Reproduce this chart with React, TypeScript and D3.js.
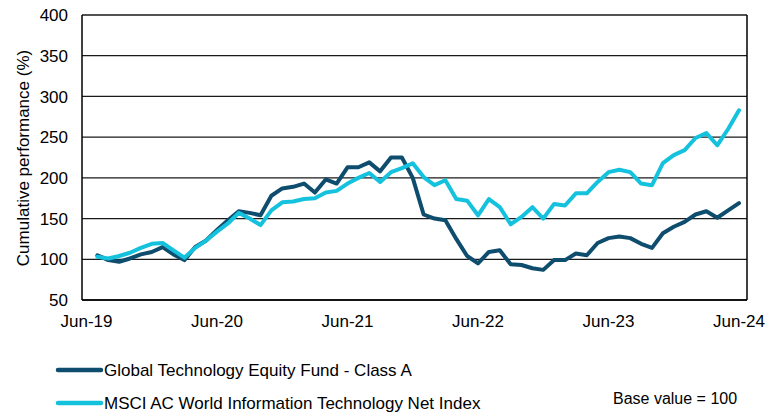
import React from "react";
import * as d3 from "d3";

const xTickLabels = ["Jun-19", "Jun-20", "Jun-21", "Jun-22", "Jun-23", "Jun-24"];
const yTicks = [50, 100, 150, 200, 250, 300, 350, 400];

// monthly values, Jul-19 .. Jun-24 (base = 100)
const fundValues = [
  105, 99, 97, 101, 106, 109, 115, 106, 99, 115,
  123, 136, 148, 159, 157, 154, 178, 187, 189, 193,
  182, 198, 193, 213, 213, 219, 208, 225, 225, 200,
  155, 150, 148, 125, 104, 95, 109, 111, 94, 93,
  89, 87, 99, 99, 107, 105, 120, 126, 128, 126,
  119, 114, 132, 140, 146, 155, 159, 151, 160, 169,
];
const indexValues = [
  103, 101, 104, 108, 114, 119, 120, 111, 102, 114,
  123, 134, 144, 157, 150, 142, 160, 170, 171, 174,
  175, 182, 184, 193, 200, 206, 195, 207, 212, 218,
  201, 191, 197, 174, 172, 154, 174, 164, 143, 152,
  164, 150, 168, 166, 181, 181, 195, 207, 210, 207,
  193, 191, 218, 228, 234, 249, 255, 240, 260, 283,
];

const seriesNames = [
  "Global Technology Equity Fund - Class A",
  "MSCI AC World Information Technology Net Index",
];
const seriesColors = ["#0E4D6E", "#15C2DE"];

const W = 779;
const H = 412;
const FONT = "'Liberation Sans', Arial, sans-serif";

export default function App() {
  const plotLeft = 82;
  const plotRight = 747;
  const plotTop = 15;
  const plotBottom = 300;

  const x = d3.scaleLinear().domain([0, 60]).range([86.5, 739]);
  const y = d3.scaleLinear().domain([50, 400]).range([plotBottom, plotTop]);

  const line = d3
    .line<number>()
    .x((_, i) => x(i + 1))
    .y((d) => y(d));

  const series = [fundValues, indexValues];

  return (
    <svg
      width={W}
      height={H}
      style={{ position: "absolute", left: 0, top: 0, background: "#fff" }}
      fontFamily={FONT}
    >
      <rect x={0} y={0} width={W} height={H} fill="#fff" />
      {/* gridlines */}
      {yTicks.map((t) => (
        <line
          key={t}
          x1={plotLeft}
          x2={plotRight}
          y1={y(t)}
          y2={y(t)}
          stroke="#1a1a1a"
          strokeWidth={1.3}
        />
      ))}
      {/* frame */}
      <line x1={plotLeft} x2={plotLeft} y1={plotTop} y2={plotBottom} stroke="#000" strokeWidth={1.5} />
      <line x1={plotRight} x2={plotRight} y1={plotTop} y2={plotBottom} stroke="#000" strokeWidth={1.5} />
      <line x1={plotLeft} x2={plotRight} y1={plotBottom} y2={plotBottom} stroke="#000" strokeWidth={1.5} />

      {/* y tick labels */}
      {yTicks.map((t) => (
        <text key={t} x={68} y={y(t)} dy="0.36em" textAnchor="end" fontSize={17} fill="#000">
          {t}
        </text>
      ))}
      {/* x tick labels */}
      {xTickLabels.map((l, i) => (
        <text key={l} x={x(i * 12)} y={327} textAnchor="middle" fontSize={17} fill="#000">
          {l}
        </text>
      ))}
      {/* axis title */}
      <text
        transform={`translate(23,158) rotate(-90)`}
        textAnchor="middle"
        dy="0.36em"
        fontSize={17}
        fill="#000"
      >
        Cumulative performance (%)
      </text>

      {/* lines */}
      {series.map((s, k) => (
        <path
          key={k}
          d={line(s) || ""}
          fill="none"
          stroke={seriesColors[k]}
          strokeWidth={4}
          strokeLinejoin="round"
          strokeLinecap="round"
        />
      ))}

      {/* legend */}
      {seriesNames.map((n, k) => {
        const ly = k === 0 ? 370 : 403;
        return (
          <g key={n}>
            <line x1={58} x2={101} y1={ly} y2={ly} stroke={seriesColors[k]} strokeWidth={4.5} strokeLinecap="round" />
            <text x={104} y={ly} dy="0.36em" fontSize={17} fill="#000">
              {n}
            </text>
          </g>
        );
      })}
      <text x={613} y={398} dy="0.36em" fontSize={16} fill="#000">
        Base value = 100
      </text>
    </svg>
  );
}
